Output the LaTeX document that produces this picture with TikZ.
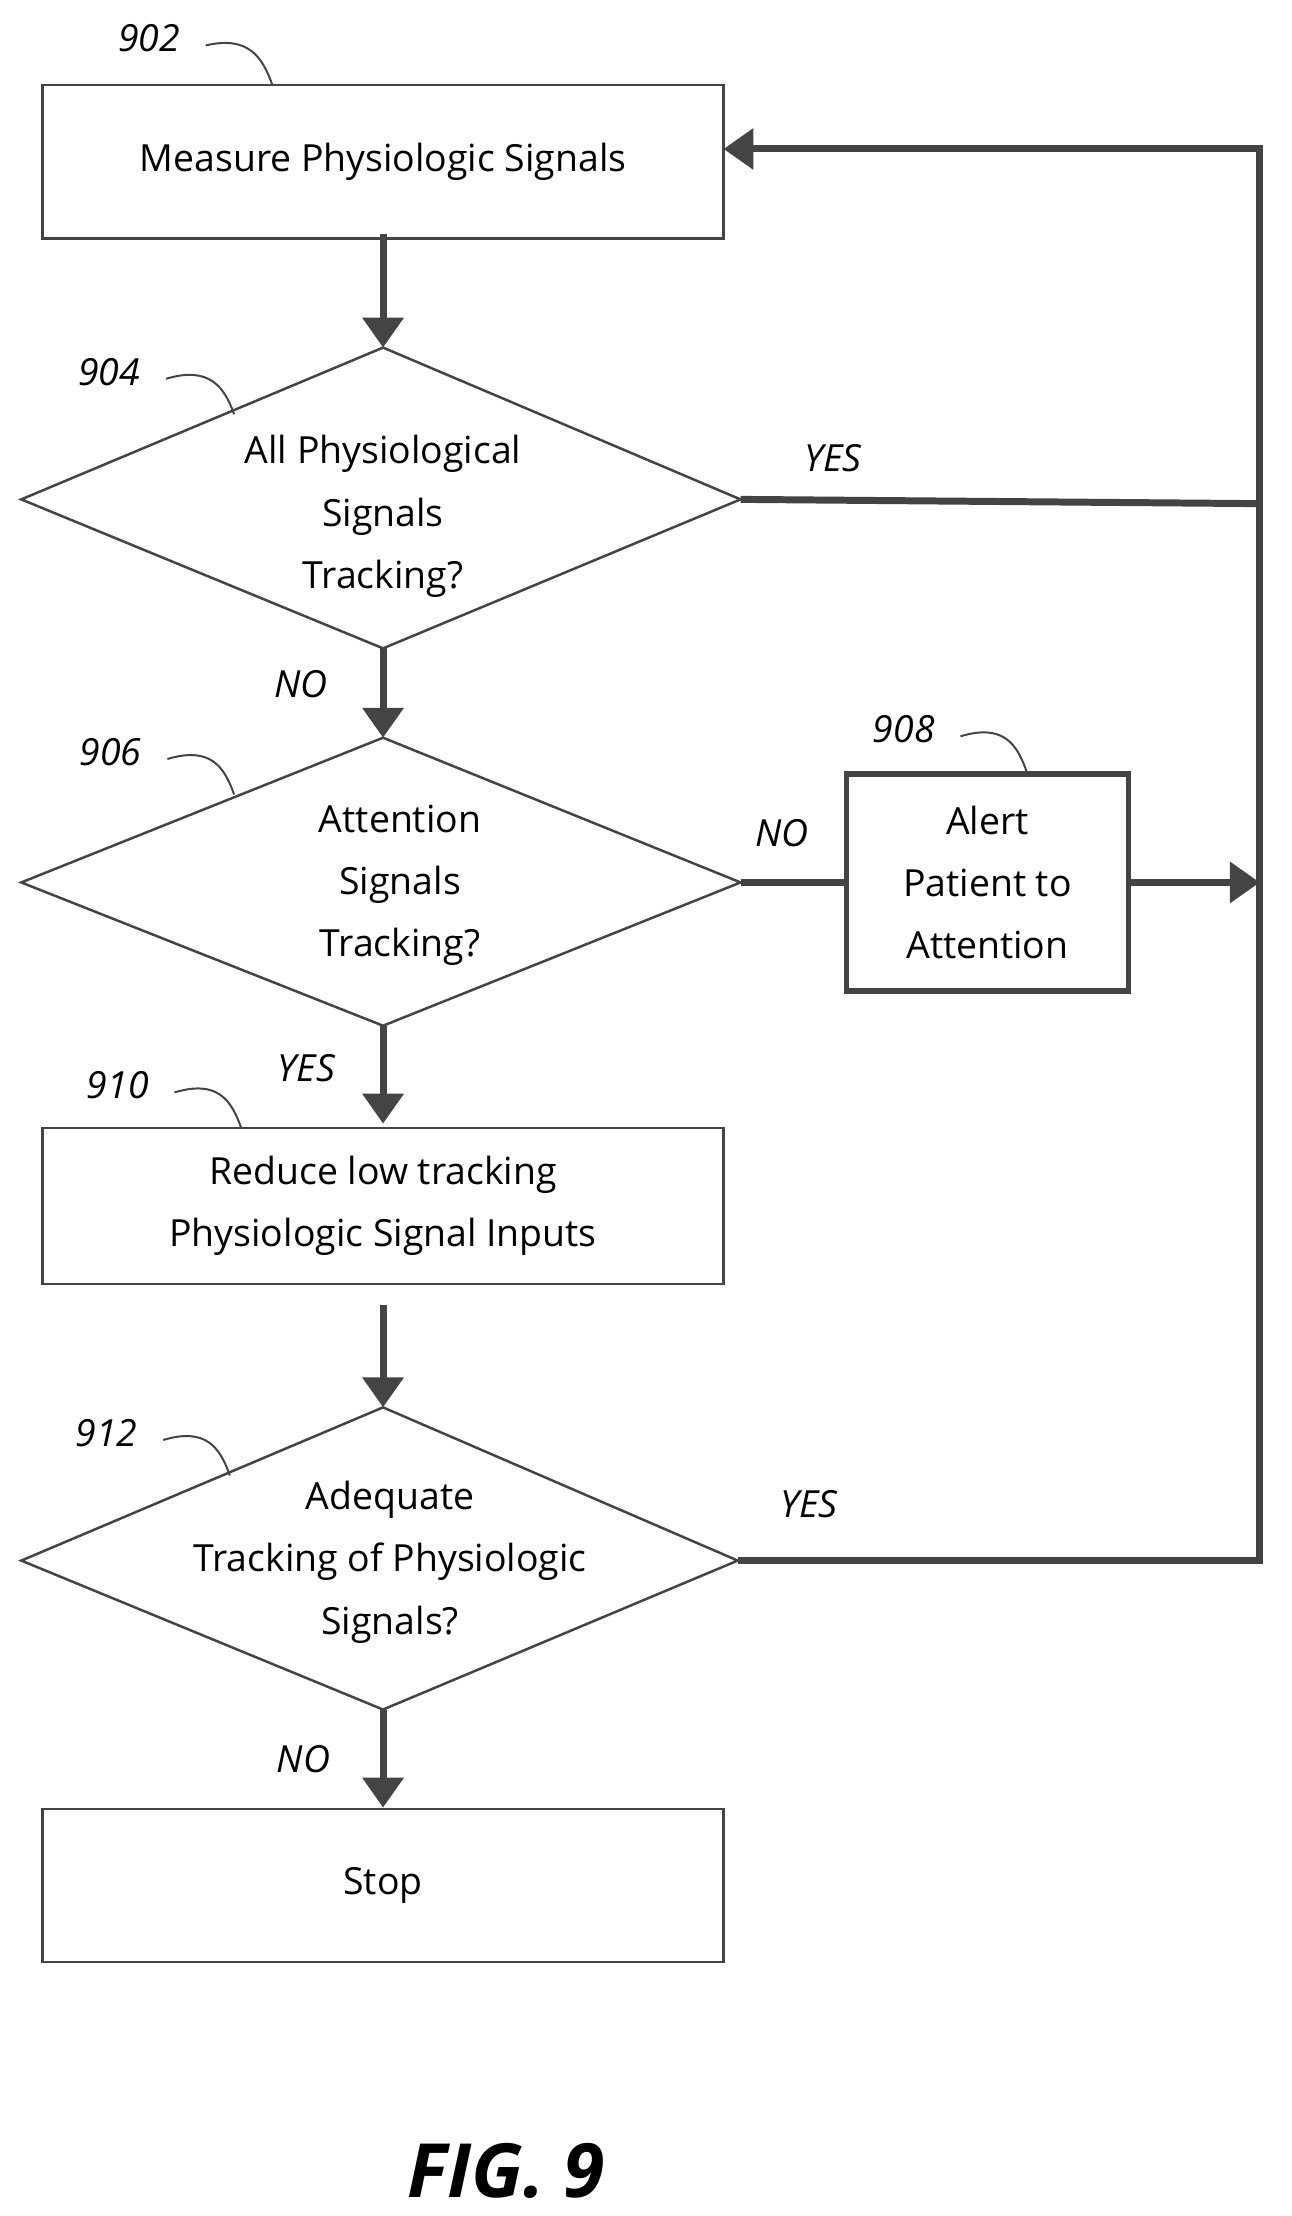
\documentclass[tikz,border=0pt]{standalone}
\usepackage{fontspec}
\setmainfont{Open Sans}
\usetikzlibrary{arrows.meta}
\definecolor{ln}{HTML}{444444}
\begin{document}
\begin{tikzpicture}[x=0.02cm,y=-0.02cm,
  box/.style={draw=ln,line width=1pt,minimum width=9.6cm,minimum height=2.16cm,inner sep=0pt,align=center,font=\fontsize{15}{25}\selectfont},
  dia/.style={draw=ln,line width=1pt},
  txt/.style={align=center,font=\fontsize{15}{25}\selectfont},
  lab/.style={font=\fontsize{15}{18}\selectfont\itshape},
  flow/.style={draw=ln,line width=2.8pt,-{Triangle[length=12pt,width=16pt]}},
  line/.style={draw=ln,line width=2.8pt},
  lead/.style={draw=ln,line width=0.8pt}]
\useasboundingbox (0,0) rectangle (910,1562);
\node[box] (b902) at (270,114) {Measure Physiologic Signals};
\draw[dia] (15,352)--(270,245)--(522,352)--(270,457)--cycle;
\coordinate (d904t) at (270,245); \coordinate (d904b) at (270,457); \coordinate (d904r) at (522,352);
\node[txt] (t904) at (270,364) {All Physiological\\Signals\\Tracking?};
\draw[dia] (15,622)--(270,520)--(522,622)--(270,723)--cycle;
\coordinate (d906t) at (270,520); \coordinate (d906b) at (270,723); \coordinate (d906r) at (522,622);
\node[txt] (t906) at (282,624) {Attention\\Signals\\Tracking?};
\node[box,line width=2.2pt,minimum width=3.98cm,minimum height=3.06cm] (b908) at (696,622) {Alert\\Patient to\\Attention};
\node[box,minimum height=2.2cm] (b910) at (270,850) {Reduce low tracking\\Physiologic Signal Inputs};
\draw[dia] (15,1100)--(270,992)--(520,1100)--(270,1205)--cycle;
\coordinate (d912t) at (270,992); \coordinate (d912b) at (270,1205); \coordinate (d912r) at (520,1100);
\node[txt] (t912) at (275,1101) {Adequate\\Tracking of Physiologic\\Signals?};
\node[box] (stop) at (270,1329) {Stop};
\coordinate (rt) at (888,105); \coordinate (rb) at (888,1100); \coordinate (rm) at (888,622); \coordinate (ry) at (888,355);
\draw[flow] (b902.south) ++(0,-4) -- (d904t);
\draw[flow] (d904b) -- (d906t);
\draw[flow] (d906b) -- (270,792);
\draw[flow] (270,920) -- (d912t);
\draw[flow] (d912b) -- (stop.north);
\draw[line] (d904r) -- (ry);
\draw[line] (d906r) -- (b908.west);
\draw[flow] (b908.east) -- (rm);
\draw[line] (d912r) -- (rb);
\draw[line,line cap=rect] (rb) -- (rt);
\draw[flow] (rt) -- (510,105);
\node[lab] (l902) at (105,27) {902};
\node[lab] (l904) at (77,262) {904};
\node[lab] (l906) at (78,530) {906};
\node[lab] (l908) at (637,514) {908};
\node[lab] (l910) at (83,765) {910};
\node[lab] (l912) at (75,1010) {912};
\draw[lead] (145,32) .. controls (175,25) and (185,40) .. (192,60);
\draw[lead] (117,267) .. controls (147,258) and (158,272) .. (165,292);
\draw[lead] (118,535) .. controls (148,526) and (158,540) .. (165,560);
\draw[lead] (677,519) .. controls (707,510) and (717,524) .. (724,545);
\draw[lead] (123,770) .. controls (153,761) and (163,775) .. (170,795);
\draw[lead] (115,1015) .. controls (145,1006) and (155,1020) .. (162,1040);
\node[lab] (y1) at (587,323) {YES};
\node[lab] (n1) at (212,482) {NO};
\node[lab] (n2) at (551,587) {NO};
\node[lab] (y2) at (216,753) {YES};
\node[lab] (y3) at (570,1060) {YES};
\node[lab] (n3) at (214,1240) {NO};
\node[font=\fontsize{30}{36}\selectfont\bfseries\itshape] (fig) at (357,1530) {FIG. 9};
\end{tikzpicture}
\end{document}
